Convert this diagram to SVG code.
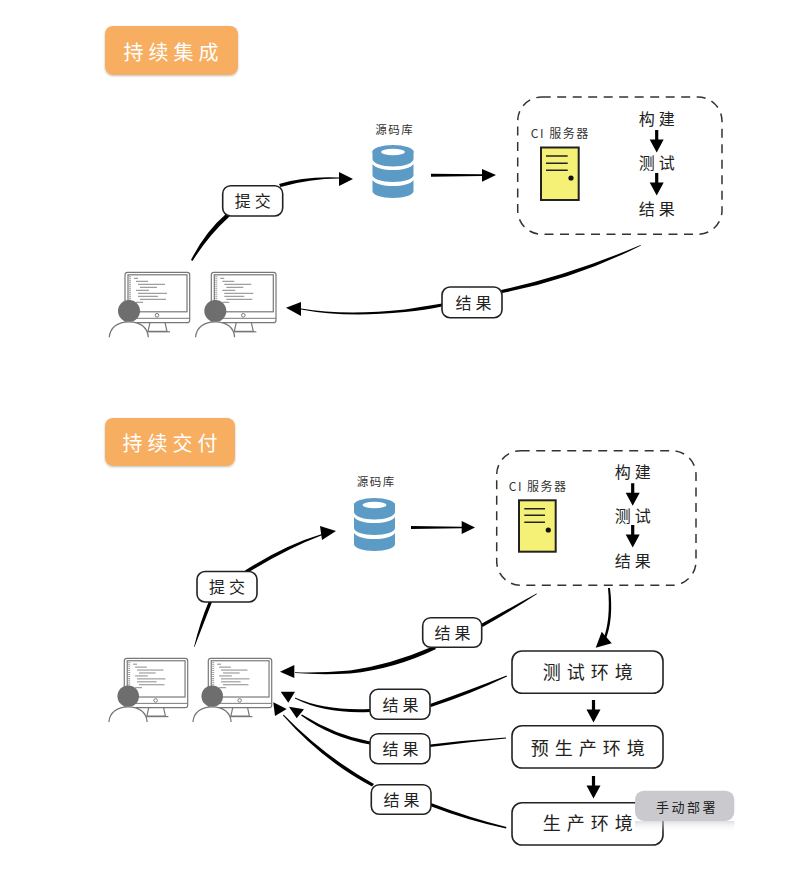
<svg xmlns="http://www.w3.org/2000/svg" xmlns:xlink="http://www.w3.org/1999/xlink" width="800" height="881" viewBox="0 0 800 881">
<style>
text{font-family:"Noto Sans CJK SC","Noto Sans",sans-serif;text-anchor:middle;dominant-baseline:central;fill:#222}
.title{font-size:20px;fill:#fff;letter-spacing:5px}
.small{font-size:11.500px;letter-spacing:1.500px;fill:#333}
.ciname{font-size:12px;letter-spacing:1.500px;fill:#333}
.step{font-size:16px;letter-spacing:4px}
.lab{font-size:16px;letter-spacing:4px}
.env{font-size:18px;letter-spacing:6px}
.card{fill:#fff;stroke:#222;stroke-width:1.6}
.ci{fill:none;stroke:#333;stroke-width:1.5;stroke-dasharray:9 6.500}
.ink{fill:#000;stroke:none}
.door{fill:#f5f076;stroke:#222;stroke-width:2}
.dl{stroke:#222;stroke-width:1.500}
.m{fill:#fff;stroke:#777;stroke-width:1.200}
.c{stroke:#888;stroke-width:1}
</style>
<defs>
<filter id="sh" x="-10%" y="-10%" width="120%" height="125%"><feDropShadow dx="0" dy="1" stdDeviation="1.200" flood-color="#000" flood-opacity=".25"/></filter>
<linearGradient id="refl" x1="0" y1="0" x2="0" y2="1"><stop offset="0" stop-color="#c9c9ce" stop-opacity=".6"/><stop offset="1" stop-color="#fff" stop-opacity="0"/></linearGradient>
<g id="db">
<path d="M0,5.500V14C0,18 9,21.500 20.500,21.500S41,18 41,14V5.500Z" fill="#5b9bc6"/>
<ellipse cx="20.500" cy="7" rx="20.500" ry="7" fill="#5b9bc6"/>
<ellipse cx="20.500" cy="7" rx="12" ry="3.300" fill="#fff"/>
<path d="M0,19C3,23 11,25 20.500,25S38,23 41,19V30C41,34 32,37 20.500,37S0,34 0,30Z" fill="#5b9bc6"/>
<path d="M0,35C3,39 11,41 20.500,41S38,39 41,35V46C41,50 32,53 20.500,53S0,50 0,46Z" fill="#5b9bc6"/>
</g>
<g id="pc">
<path class="m" d="M25,50L23,59H42L40,50" fill="none"/>
<path d="M20,59.500H45" stroke="#777" stroke-width="1.200"/>
<rect class="m" x="0" y="0" width="64.700" height="50.400" rx="2.500"/>
<rect class="m" x="3" y="2.500" width="59" height="37"/>
<path d="M0,46H64.700" stroke="#777" stroke-width="1"/>
<circle cx="32" cy="43" r="1.800" fill="#fff" stroke="#777"/>
<path d="M5,4V32" stroke="#999" stroke-width="2" stroke-dasharray="1 1"/>
<path class="c" d="M9,6H13M11,9H23M13,12H40M15,15H32M11,18H24M13,21H42M13,24H33M15,27H41M11,30H18"/>
<circle cx="4" cy="38.700" r="11" fill="#6e6e6e"/>
<path d="M-15.700,65C-15,55 -7,49.500 4,49.500S22.700,55 23.300,65" fill="#fff" stroke="#777" stroke-width="1.300"/>
</g>
<path id="down" d="M-1.600,0H1.600V9.500H7L0,22.500L-7,9.500H-1.600Z" fill="#000"/>
</defs>

<g id="connectors">
<path class="ink" d="M191,260Q205,232 226.500,213.500L229.500,216.500Q208,236 192.500,261Z"/>
<path class="ink" d="M279,184Q305,176 339,177.500L339,178.500Q310,178.500 280.500,187Z"/>
<polygon class="ink" points="339,172 353,179 339,186"/>
<path class="ink" d="M431,173.800L482,174.300V176L431,176.800Z"/>
<polygon class="ink" points="482,169 496,175 482,181.700"/>
<path class="ink" d="M640.500,245Q570,275 501,290L502,293Q575,279 641,245.500Z"/>
<path class="ink" d="M442,303.500Q420,307 405,309.500Q345,316 301,308.500L301,309.500Q345,318 405,312Q425,310 442,306.500Z"/>
<polygon class="ink" points="286,307.700 301,302 301,316"/>
<use xlink:href="#down" href="#down" x="656.700" y="130"/>
<use xlink:href="#down" href="#down" x="656.700" y="173"/>

<path class="ink" d="M194,647Q200,622 209,601L212,602Q203,625 194.500,647Z"/>
<path class="ink" d="M245,570.500Q285,545 322,534L322.500,535Q288,548 246.500,573.500Z"/>
<polygon class="ink" points="336,531 322,540 320,526"/>
<path class="ink" d="M411,526L462,526.800V528.200L411,529Z"/>
<polygon class="ink" points="461.700,521 475,527.500 461.700,534"/>
<path class="ink" d="M536.500,593.500Q510,608 481,624L482.500,627Q512,610.500 537,594Z"/>
<path class="ink" d="M434,646Q390,665 350,670.500Q320,673 295,672.200L295,673Q320,675 350,673.500Q395,669 436,649Z"/>
<polygon class="ink" points="280,671.700 294.300,665 294.300,678"/>
<path class="ink" d="M608,588Q611,620 603,640L605,641Q614,620 610,588Z"/>
<polygon class="ink" points="595.700,647.700 601.700,631.700 611.700,643.300"/>
<path class="ink" d="M506.500,675.500Q470,690 430,704L431,707Q472,693.500 507,676.500Z"/>
<path class="ink" d="M370,709Q325,711 295,697.500L295,698.500Q325,714 370,712Z"/>
<polygon class="ink" points="288.300,702.700 280.700,691.700 295,691.700"/>
<path class="ink" d="M506,737.500Q468,740 430,744.500L430,747Q468,742 506,738.500Z"/>
<path class="ink" d="M370,741.500Q335,735 302,714.500L301,715.500Q332,738 370,744.500Z"/>
<polygon class="ink" points="289,706.700 296.700,718.300 304,709.300"/>
<path class="ink" d="M506.500,827Q470,818 431,803L430,806Q468,820.500 506,828.500Z"/>
<path class="ink" d="M374,784Q325,757 283.500,714.500L283,715.500Q322,760 372,786.500Z"/>
<polygon class="ink" points="273.300,702.300 275,716 286.700,709"/>
<use xlink:href="#down" href="#down" x="632.700" y="483.300"/>
<use xlink:href="#down" href="#down" x="632.700" y="525"/>
<use xlink:href="#down" href="#down" x="593.500" y="700"/>
<use xlink:href="#down" href="#down" x="593.500" y="776"/>
</g>

<g id="title-ci"><rect x="105" y="26" width="133" height="49" rx="8" fill="#f7ae60" filter="url(#sh)"/><text class="title" x="173.500" y="51.500">持续集成</text></g>
<g id="repo-ci"><text class="small" x="394.700" y="129">源码库</text><use xlink:href="#db" href="#db" x="372.500" y="145"/></g>
<g id="commit-ci"><rect class="card" x="222.700" y="185.700" width="60" height="30.300" rx="8"/><text class="lab" x="254.700" y="199.500">提交</text></g>
<g id="server-ci">
<rect class="ci" x="517.700" y="97" width="204.300" height="137.300" rx="24"/>
<text class="ciname" x="560.300" y="132.500">CI 服务器</text>
<rect class="door" x="541" y="147.500" width="37.700" height="52.500"/>
<path class="dl" d="M546,156H567.700M546,163.300H567.700M546,170.300H567.700"/>
<circle cx="571" cy="178" r="2.600" fill="#111"/>
<text class="step" x="658.700" y="117.500">构建</text>
<text class="step" x="658.700" y="161.500">测试</text>
<text class="step" x="658.700" y="207.500">结果</text>
</g>
<g id="result-ci"><rect class="card" x="442" y="287" width="60" height="30.700" rx="8"/><text class="lab" x="475.500" y="301.500">结果</text></g>
<g id="dev-ci-1"><use xlink:href="#pc" href="#pc" x="125" y="272.300"/></g>
<g id="dev-ci-2"><use xlink:href="#pc" href="#pc" x="211.300" y="272.300"/></g>

<g id="title-cd"><rect x="105" y="418" width="130" height="48" rx="8" fill="#f7ae60" filter="url(#sh)"/><text class="title" x="172.500" y="442.500">持续交付</text></g>
<g id="repo-cd"><text class="small" x="376.300" y="481">源码库</text><use xlink:href="#db" href="#db" x="354" y="498"/></g>
<g id="commit-cd"><rect class="card" x="197" y="571.500" width="60" height="30.500" rx="8"/><text class="lab" x="229" y="585.500">提交</text></g>
<g id="server-cd">
<rect class="ci" x="496.700" y="450.700" width="199.300" height="134.600" rx="24"/>
<text class="ciname" x="538.200" y="485.500">CI 服务器</text>
<rect class="door" x="519" y="500.300" width="36.700" height="51.400"/>
<path class="dl" d="M524.300,508.700H545M524.300,515.300H545M524.300,522.300H545"/>
<circle cx="548.300" cy="530" r="2.600" fill="#111"/>
<text class="step" x="634.700" y="470.500">构建</text>
<text class="step" x="634.700" y="514.500">测试</text>
<text class="step" x="634.700" y="559.500">结果</text>
</g>
<g id="result-cd-1"><rect class="card" x="422.700" y="617.700" width="59" height="29.600" rx="8"/><text class="lab" x="454.500" y="631.500">结果</text></g>
<g id="result-cd-2"><rect class="card" x="370" y="689.300" width="60" height="30" rx="8"/><text class="lab" x="402.500" y="703.500">结果</text></g>
<g id="result-cd-3"><rect class="card" x="370" y="733.700" width="60" height="30" rx="8"/><text class="lab" x="402.500" y="747.500">结果</text></g>
<g id="result-cd-4"><rect class="card" x="371.300" y="784.700" width="59.700" height="29.600" rx="8"/><text class="lab" x="403.500" y="798.500">结果</text></g>
<g id="dev-cd-1"><use xlink:href="#pc" href="#pc" transform="translate(124.300 658.300) scale(.98)"/></g>
<g id="dev-cd-2"><use xlink:href="#pc" href="#pc" transform="translate(208.300 658.300) scale(.98)"/></g>
<g id="env-test"><rect class="card" x="512" y="651" width="151" height="42.300" rx="10"/><text class="env" x="590.700" y="671">测试环境</text></g>
<g id="env-pre"><rect class="card" x="512" y="725.700" width="151" height="42.300" rx="10"/><text class="env" x="590.700" y="746.500">预生产环境</text></g>
<g id="env-prod"><rect class="card" x="512" y="802.700" width="151" height="42.300" rx="10"/><text class="env" x="590.700" y="822">生产环境</text></g>
<g id="manual"><rect x="635" y="821" width="99.300" height="11" fill="url(#refl)"/><rect x="635" y="790.700" width="99.300" height="30.300" rx="9" fill="#c9c9ce"/><text x="687" y="806" font-size="13" letter-spacing="2.500">手动部署</text></g>
</svg>
